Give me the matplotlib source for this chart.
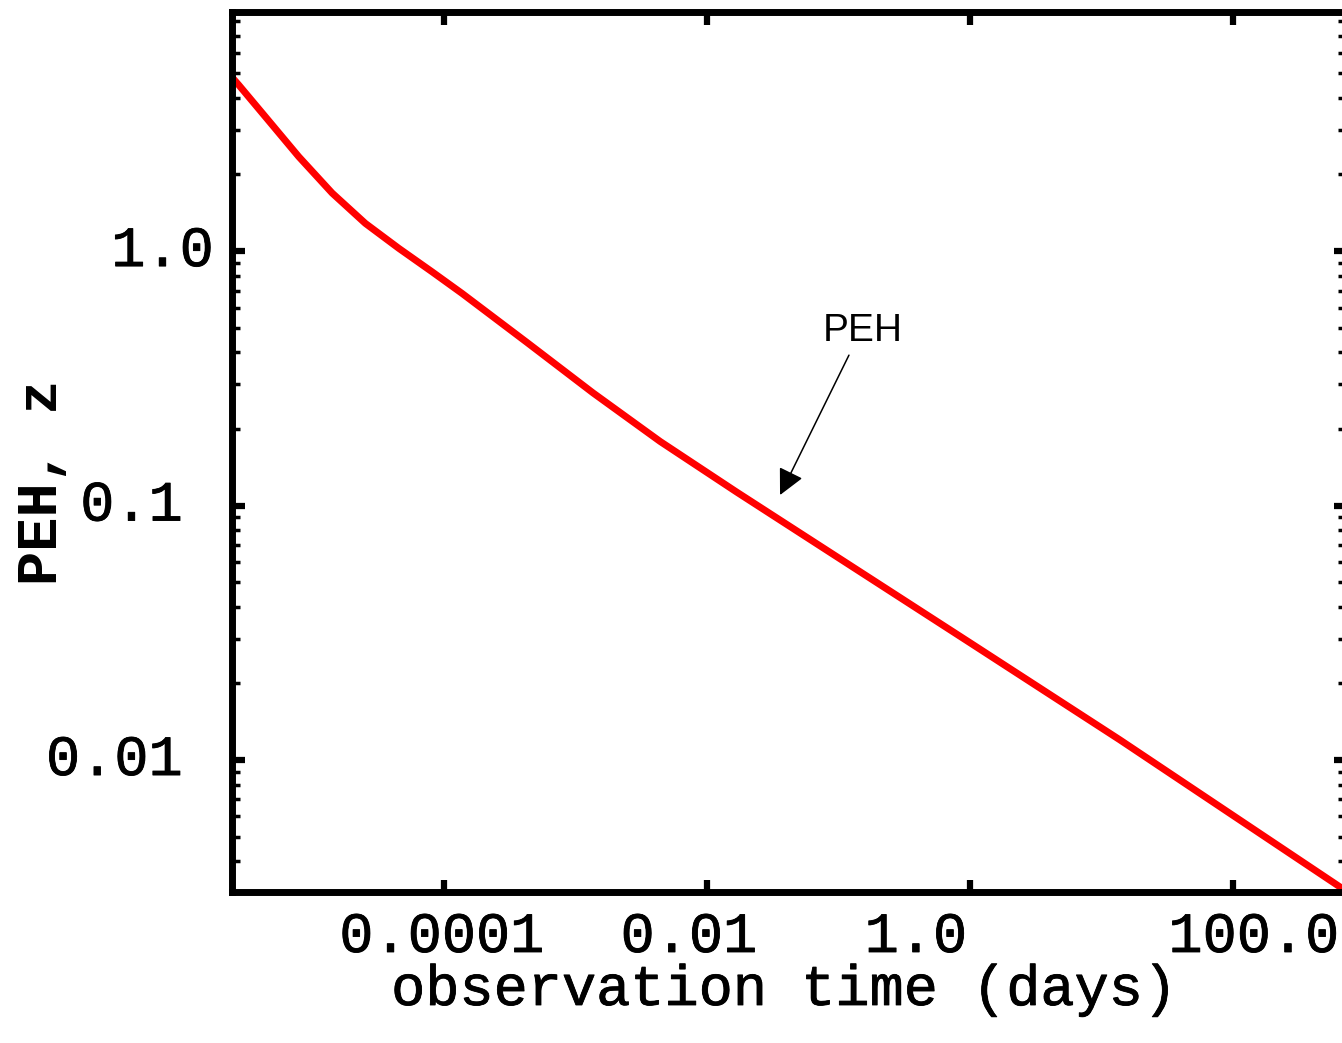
import matplotlib
matplotlib.use("Agg")
import matplotlib.pyplot as plt
import matplotlib.patheffects as pe
from matplotlib.ticker import LogLocator, NullFormatter, NullLocator
from matplotlib.transforms import ScaledTranslation

# ---- data ----
time_days = [2.44e-6, 2.75e-6, 4.38e-6, 7.85e-6, 1.41e-5, 2.52e-5, 4.53e-5, 8.11e-5,
             1.37e-4, 4.26e-4, 1.36e-3, 4.40e-3, 1.68e-2, 1.0, 13.8, 652.0, 723.0]
peh_z     = [4.82, 4.49, 3.37, 2.35, 1.69, 1.285, 1.025, 0.829,
             0.682, 0.438, 0.277, 0.1786, 0.113, 0.0289, 0.0120, 0.00317, 0.00305]

x_ticks = [1e-4, 1e-2, 1.0, 100.0]
x_tick_labels = ["0.0001", "0.01", "1.0", "100.0"]
y_ticks = [1.0, 0.1, 0.01]
y_tick_labels = ["1.0", "0.1", "0.01"]

annot_text = "PEH"
annot_text_pos = (0.153, 0.487)
arrow_start = (0.120, 0.390)
arrow_tip = (0.0359, 0.110)

xlabel = "observation time (days)"
ylabel = "PEH, z"

# ---- figure ----
W, H = 1342, 1043
fig = plt.figure(figsize=(W / 100, H / 100), dpi=100)
ax = fig.add_axes([232 / W, 1 - 892 / H, (1346 - 232) / W, (892 - 12) / H])
ax.set_xscale("log")
ax.set_yscale("log")
ax.set_xlim(2.44e-6, 723)
ax.set_ylim(0.00303, 8.7)

ax.plot(time_days, peh_z, color="#ff0000", lw=5, solid_capstyle="butt",
        solid_joinstyle="round", clip_on=True)

for s in ax.spines.values():
    s.set_linewidth(5)
    s.set_color("black")

ax.set_xticks(x_ticks)
ax.set_yticks(y_ticks)
ax.xaxis.set_minor_locator(NullLocator())
ax.yaxis.set_minor_locator(LogLocator(base=10, subs=range(2, 10), numticks=20))
ax.set_xticklabels([])
ax.set_yticklabels([])
ax.yaxis.set_minor_formatter(NullFormatter())
ax.tick_params(which="major", direction="in", length=9, width=4.5, top=True, right=True,
               labelbottom=False, labelleft=False)
ax.tick_params(which="minor", direction="in", length=5.5, width=2.5, top=False, right=True, bottom=False)

thick = [pe.withStroke(linewidth=0.6, foreground="black")]
mono = dict(family="Liberation Mono", weight="normal", size=41, path_effects=thick)

# x tick labels (as in the reference, slightly irregular offsets)
x_offsets_px = [-2, -18, -54, 21]
xtr = ax.get_xaxis_transform()
for v, lab, dx in zip(x_ticks, x_tick_labels, x_offsets_px):
    ax.text(v, 0, lab, transform=xtr + ScaledTranslation(dx / 100, -45 / 100, fig.dpi_scale_trans),
            ha="center", va="center", clip_on=False, **mono)

# y tick labels
y_right_px = [214, 183, 183]
ytr = ax.get_yaxis_transform()
for v, lab, rx in zip(y_ticks, y_tick_labels, y_right_px):
    ax.text(0, v, lab, transform=ytr + ScaledTranslation((rx - 232) / 100, 0, fig.dpi_scale_trans),
            ha="right", va="center", clip_on=False, **mono)

fig.text(785 / W, 1 - 990 / H, xlabel, ha="center", va="center", **mono)
ylab = dict(mono)
ylab["weight"] = "bold"
ylab["path_effects"] = []
fig.text(42 / W, 1 - 482 / H, ylabel, ha="center", va="center", rotation=90, **ylab)

ax.text(*annot_text_pos, annot_text, ha="center", va="center",
        family="Liberation Sans", size=28, color="black")
ax.annotate("", xy=arrow_tip, xytext=arrow_start,
            arrowprops=dict(arrowstyle="-|>", color="black", lw=1.1, mutation_scale=40,
                            shrinkA=0, shrinkB=0))

fig.savefig("out.png", dpi=100)
